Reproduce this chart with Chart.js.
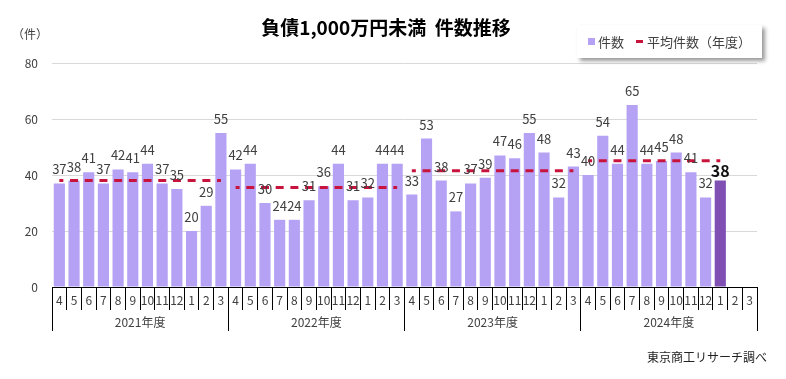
<!DOCTYPE html>
<html lang="ja">
<head>
<meta charset="utf-8">
<script src="https://cdn.jsdelivr.net/npm/chart.js@4.4.1/dist/chart.umd.min.js"></script>
<style>
  html, body { margin: 0; padding: 0; background: #fff; }
</style>
</head>
<body>
<canvas id="chart" width="786" height="379"></canvas>
<script>
// ─────────────────────────────────────────
// DATA
// ─────────────────────────────────────────
const TITLE = '負債1,000万円未満  件数推移';
const UNIT = '（件）';
const SOURCE = '東京商工リサーチ調べ';
const SERIES_LABEL = '件数';
const AVG_LABEL = '平均件数（年度）';

const MONTHS = ['4', '5', '6', '7', '8', '9', '10', '11', '12', '1', '2', '3'];
const YEARS = ['2021年度', '2022年度', '2023年度', '2024年度'];

const FY2021 = [37, 38, 41, 37, 42, 41, 44, 37, 35, 20, 29, 55];
const FY2022 = [42, 44, 30, 24, 24, 31, 36, 44, 31, 32, 44, 44];
const FY2023 = [33, 53, 38, 27, 37, 39, 47, 46, 55, 48, 32, 43];
const FY2024 = [40, 54, 44, 65, 44, 45, 48, 41, 32, 38, null, null];

// yearly average lines
const AVG_FY = [38.0, 35.5, 41.5, 45.1];
const Y_TICKS = [0, 20, 40, 60, 80];

// ─────────────────────────────────────────
// STYLE
// ─────────────────────────────────────────
const FONT = "'Noto Sans CJK JP', 'Noto Sans', sans-serif";
const BAR = '#b5a2f4';
const BAR_LAST = '#7f4fb3';
const RED = '#c8143c';
const TEXT = '#404040';

const COUNTS = [...FY2021, ...FY2022, ...FY2023, ...FY2024];
const LABELS = YEARS.flatMap(() => MONTHS);
const LAST_IDX = COUNTS.reduce((acc, v, i) => (v != null ? i : acc), 0);

const yearData = [FY2021, FY2022, FY2023, FY2024];
const avgSets = AVG_FY.map((avg, y) => ({
  type: 'line',
  label: AVG_LABEL,
  data: COUNTS.map((_, i) =>
    Math.floor(i / 12) === y && yearData[y][i % 12] != null ? avg : null),
  borderColor: RED,
  borderWidth: 3,
  borderDash: [8, 6.7],
  borderDashOffset: 4,
  pointRadius: 0,
  fill: false,
  spanGaps: false,
  order: 0,
}));

// ─────────────────────────────────────────
// PLUGINS — labels, title, legend
// ─────────────────────────────────────────
const valueLabels = {
  id: 'valueLabels',
  afterDatasetsDraw(chart) {
    const ctx = chart.ctx;
    const meta = chart.getDatasetMeta(0);
    ctx.save();
    ctx.textAlign = 'center';
    ctx.textBaseline = 'alphabetic';
    meta.data.forEach((bar, i) => {
      const v = COUNTS[i];
      if (v == null) return;
      if (i === LAST_IDX) {
        ctx.font = `bold 16px ${FONT}`;
        ctx.fillStyle = '#111';
        ctx.fillText(String(v), bar.x, bar.y - 4);
      } else {
        ctx.font = `13px ${FONT}`;
        ctx.fillStyle = TEXT;
        ctx.fillText(String(v), bar.x, bar.y - 9);
      }
    });
    ctx.restore();
  },
};

const decorations = {
  id: 'decorations',
  afterDraw(chart) {
    const ctx = chart.ctx;
    ctx.save();

    // title
    ctx.fillStyle = '#000';
    ctx.font = `bold 19px ${FONT}`;
    ctx.textAlign = 'center';
    ctx.textBaseline = 'middle';
    ctx.fillText(TITLE, 386, 28);

    // unit
    ctx.font = `12px ${FONT}`;
    ctx.fillStyle = TEXT;
    ctx.fillText(UNIT, 30, 34);

    // source
    ctx.textAlign = 'right';
    ctx.fillStyle = '#222';
    ctx.fillText(SOURCE, 767, 357);

    // legend box with shadow
    ctx.save();
    ctx.shadowColor = 'rgba(0,0,0,0.4)';
    ctx.shadowBlur = 4;
    ctx.shadowOffsetX = 3;
    ctx.shadowOffsetY = 3;
    ctx.fillStyle = '#fff';
    ctx.fillRect(577, 25, 185, 33);
    ctx.restore();

    ctx.fillStyle = BAR;
    ctx.fillRect(588, 38, 7, 7);
    ctx.fillStyle = RED;
    ctx.fillRect(636, 40, 7, 3);

    ctx.font = `13px ${FONT}`;
    ctx.fillStyle = TEXT;
    ctx.textAlign = 'left';
    ctx.fillText(SERIES_LABEL, 598, 42);
    ctx.fillText(AVG_LABEL, 647, 42);

    ctx.restore();
  },
};

// ─────────────────────────────────────────
// CHART
// ─────────────────────────────────────────
new Chart(document.getElementById('chart'), {
  type: 'bar',
  data: {
    labels: LABELS,
    datasets: [
      {
        label: SERIES_LABEL,
        data: COUNTS,
        backgroundColor: COUNTS.map((_, i) => (i === LAST_IDX ? BAR_LAST : BAR)),
        categoryPercentage: 1,
        barPercentage: 0.76,
        order: 1,
      },
      ...avgSets,
    ],
  },
  options: {
    responsive: false,
    animation: false,
    devicePixelRatio: 1,
    layout: { padding: { top: 63, right: 29, bottom: 48, left: 0 } },
    plugins: {
      legend: { display: false },
      title: { display: false },
      tooltip: { enabled: false },
    },
    scales: {
      x: {
        type: 'category',
        position: 'bottom',
        offset: true,
        grid: {
          offset: true,
          drawOnChartArea: false,
          drawTicks: true,
          tickLength: 23,
          color: '#000',
        },
        border: { display: true, color: '#000', width: 1 },
        ticks: {
          autoSkip: false,
          maxRotation: 0,
          minRotation: 0,
          padding: -17,
          color: TEXT,
          font: { family: FONT, size: 12 },
        },
        afterFit(s) { s.height = 23; },
      },
      x2: {
        type: 'category',
        position: 'bottom',
        labels: YEARS,
        offset: true,
        grid: {
          offset: true,
          drawOnChartArea: false,
          drawTicks: true,
          tickLength: 21,
          color: '#000',
        },
        border: { display: false },
        ticks: {
          autoSkip: false,
          maxRotation: 0,
          padding: -16,
          color: TEXT,
          font: { family: FONT, size: 12 },
        },
        afterFit(s) { s.height = 21; },
      },
      y: {
        min: Y_TICKS[0],
        max: Y_TICKS[Y_TICKS.length - 1],
        afterBuildTicks(s) { s.ticks = Y_TICKS.map(v => ({ value: v })); },
        ticks: { padding: 14, color: TEXT, font: { family: FONT, size: 12 } },
        grid: { color: '#d9d9d9', drawTicks: false },
        border: { display: false },
        afterFit(s) { s.width = 52; },
      },
    },
  },
  plugins: [valueLabels, decorations],
});
</script>
</body>
</html>
